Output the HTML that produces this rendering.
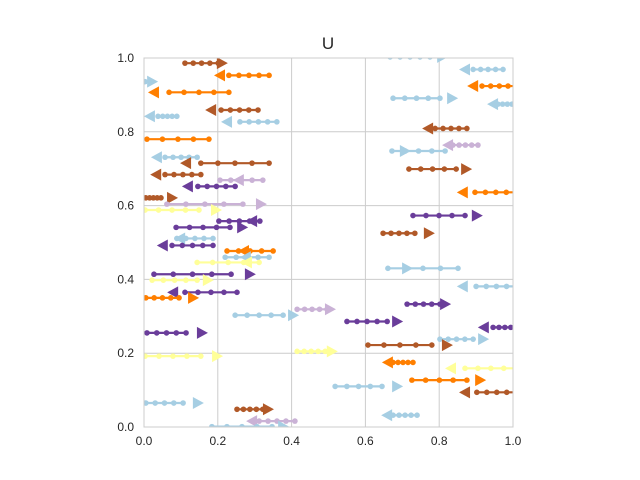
<!DOCTYPE html>
<html><head><meta charset="utf-8"><style>
html,body{margin:0;padding:0;background:#fff;}
svg{display:block;font-family:"Liberation Sans",sans-serif;}
</style></head><body>
<svg id="chart" width="640" height="480">
<defs><clipPath id="clip"><rect x="144" y="58" width="369" height="369"/></clipPath></defs>
<rect x="144" y="58" width="369" height="369" fill="#fff"/>
<g id="grid"></g>
<g id="marks" clip-path="url(#clip)"></g>
<rect x="144" y="58" width="369" height="369" fill="none" stroke="#ccc" stroke-width="1"/>
<g id="ticks"></g>
<text x="328" y="49" text-anchor="middle" font-size="17" fill="#262626">U</text>
</svg>
<script>
const tickValues=[0,0.2,0.4,0.6,0.8,1.0];
const tickLabels=["0.0","0.2","0.4","0.6","0.8","1.0"];
const segY=[.986,.953,.936,.907,.859,.842,.827,.780,.731,.715,.684,.669,.652,.621,.604,.588,.558,.541,.511,.492,.477,.460,.446,.414,.398,.365,.350,.303,.319,.255,.192,.205,.065,.048,.016,.001,.525,.430,.381,.333,.286,.270,.238,.222,.175,.159,.127,.110,.094,.032,1.003,.969,.924,.891,.875,.809,.764,.748,.699,.636,.573];
const segX0=[.111,.230,-.01,.068,.209,.038,.260,.008,.057,.154,.057,.206,.146,.005,.062,.003,.203,.087,.089,.076,.225,.220,.144,.027,.022,.111,.005,.247,.415,.008,.003,.415,.005,.252,.312,.184,.648,.661,.900,.713,.550,.946,.802,.607,.675,.870,.726,.518,.902,.675,.667,.892,.916,.675,.959,.789,.837,.672,.718,.897,.729];
const segX1=[.201,.339,.003,.230,.309,.089,.360,.176,.144,.339,.154,.322,.247,.046,.268,.149,.314,.233,.187,.187,.350,.339,.312,.236,.144,.252,.095,.377,.496,.114,.154,.491,.106,.322,.409,.347,.734,.851,1.01,.802,.659,1.01,.892,.780,.729,1.01,.875,.645,1.01,.740,.775,.973,1.01,.802,1.01,.875,.905,.816,.846,1.01,.870];
const arrowX=[.211,.206,.022,.027,.182,.016,.225,-.05,.035,.114,.033,.257,.119,.076,.317,.195,.293,.266,.098,.051,.271,.276,.279,.287,.173,.079,.133,.404,.504,.157,.198,.509,.146,.336,.293,.377,.772,.713,.864,.816,.686,.921,.919,.821,.661,.832,.911,.686,.870,.659,.808,.870,.892,.835,.946,.770,.824,.707,.873,.864,.902];
const arrowDir=["R","L","R","L","L","L","L","L","L","L","L","L","L","R","R","R","L","R","L","L","L","L","L","R","R","L","R","R","R","R","R","R","R","R","L","R","R","R","L","R","R","L","R","R","L","L","R","R","L","L","R","L","L","R","L","L","L","R","R","L","R"];
const segColor=["brown","orange","lb","orange","brown","lb","lb","orange","lb","brown","brown","lav","purple","brown","lav","yellow","purple","purple","lb","purple","orange","lb","yellow","purple","yellow","purple","orange","lb","lav","purple","yellow","yellow","lb","brown","lav","lb","brown","lb","lb","purple","purple","purple","lb","brown","orange","yellow","orange","lb","brown","lb","lb","lb","orange","lb","lb","brown","lav","lb","brown","orange","purple"];
const palette={lb:"#a6cee3",orange:"#ff7f00",brown:"#b15928",purple:"#6a3d9a",lav:"#cab2d6",yellow:"#ffff99"};
const NS="http://www.w3.org/2000/svg";
const X0=144,Y0=427,W=369,H=369;
const sx=v=>X0+v*W, sy=v=>Y0-v*H;
function mk(tag,attrs,parent){const e=document.createElementNS(NS,tag);for(const k in attrs)e.setAttribute(k,attrs[k]);parent.appendChild(e);return e;}
const grid=document.getElementById('grid'),ticks=document.getElementById('ticks'),marks=document.getElementById('marks');
tickValues.forEach((t,i)=>{
  const gx=mk('line',{x1:sx(t),x2:sx(t),y1:58,y2:427,stroke:'#ccc','stroke-width':1},grid);
  
  
  const gy=mk('line',{x1:144,x2:513,y1:sy(t),y2:sy(t),stroke:'#ccc','stroke-width':1},grid);
  
  
  const tx=mk('text',{x:sx(t),y:445,'text-anchor':'middle','font-size':12,fill:'#262626'},ticks);
  tx.textContent=tickLabels[i];
  
  
  const ty=mk('text',{x:134,y:sy(t)+4,'text-anchor':'end','font-size':12,fill:'#262626'},ticks);
  ty.textContent=tickLabels[i];
  
  
});
segY.forEach((y,i)=>{
  const c=palette[segColor[i]];
  const g=mk('g',{},marks);
  
  
  const py=sy(y),a=sx(segX0[i]),b=sx(segX1[i]);
  mk('line',{x1:a,x2:b,y1:py,y2:py,stroke:c,'stroke-width':2.2},g);
  for(let k=0;k<5;k++){const cx=a+(b-a)*k/4;mk('circle',{cx:cx,cy:py,r:2.8,fill:c},g);}
  const ax=sx(arrowX[i]);
  const pts=arrowDir[i]==="R"?`${ax-5},${py-6} ${ax+6},${py} ${ax-5},${py+6}`:`${ax+5},${py-6} ${ax-6},${py} ${ax+5},${py+6}`;
  const tri=mk('polygon',{points:pts,fill:c},g);
  
  
});
</script>
</body></html>
